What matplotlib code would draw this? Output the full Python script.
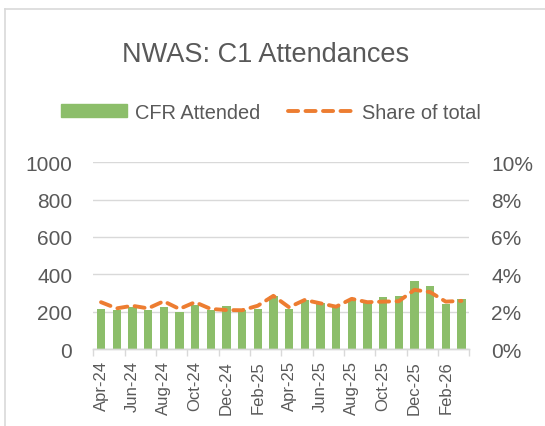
import matplotlib
matplotlib.use("Agg")
import matplotlib.pyplot as plt
import matplotlib.patches as mpatches
import matplotlib.lines as mlines
import numpy as np

# ── data ──────────────────────────────────────────────────────────────────────
MONTHS = ["Apr-24", "May-24", "Jun-24", "Jul-24", "Aug-24", "Sep-24",
          "Oct-24", "Nov-24", "Dec-24", "Jan-25", "Feb-25", "Mar-25",
          "Apr-25", "May-25", "Jun-25", "Jul-25", "Aug-25", "Sep-25",
          "Oct-25", "Nov-25", "Dec-25", "Jan-26", "Feb-26", "Mar-26"]
CFR_ATTENDED = [216, 210, 227, 210, 225, 196, 234, 211, 228, 211, 215, 286,
                213, 265, 247, 232, 268, 259, 279, 283, 366, 337, 240, 267]
SHARE_PCT = [2.51, 2.18, 2.32, 2.18, 2.56, 2.15, 2.51, 2.15, 2.09, 2.08, 2.32, 2.85,
             2.24, 2.63, 2.45, 2.27, 2.69, 2.51, 2.54, 2.56, 3.17, 3.05, 2.54, 2.58]

# ── style ──────────────────────────────────────────────────────────────────────
C_BAR  = "#8cbe6a"
C_LINE = "#ed7d31"
C_TEXT = "#595959"
C_GRID = "#d9d9d9"
FONT   = "Liberation Sans"
DASH   = (2.6, 1.9)
plt.rcParams["font.family"] = [FONT, "DejaVu Sans"]

fig = plt.figure(figsize=(5.45, 4.27), dpi=100)
ax = fig.add_axes([0.171, 0.180, 0.690, 0.438])
ax2 = ax.twinx()

x = np.arange(len(MONTHS))
ax.bar(x, CFR_ATTENDED, width=0.53, color=C_BAR, zorder=2)
ax2.plot(x, [v / 100 for v in SHARE_PCT], color=C_LINE, linewidth=2.8,
         dashes=DASH, dash_capstyle="round", zorder=3)

ax.set_xlim(-0.5, len(MONTHS) - 0.5)
ax.set_ylim(0, 1000)
ax.set_yticks(range(0, 1001, 200))
ax2.set_ylim(0, 0.10)
ax2.set_yticks(np.arange(0, 0.101, 0.02))
ax2.set_yticklabels([f"{int(round(v * 100))}%" for v in np.arange(0, 0.101, 0.02)])

ax.yaxis.grid(True, color=C_GRID, linewidth=1.0, zorder=0)
ax.set_axisbelow(True)
ax.set_zorder(ax2.get_zorder() - 1)
ax.patch.set_visible(False)

# x ticks: labels every 2nd month, tick marks at category boundaries
ax.set_xticks(x[::2])
ax.set_xticklabels(MONTHS[::2], rotation=90, fontsize=12, color=C_TEXT)
ax.set_xticks(np.arange(-0.5, len(MONTHS), 2), minor=True)
ax.tick_params(axis="x", which="major", length=0, pad=8)
ax.tick_params(axis="x", which="minor", length=5, color=C_GRID, width=1)
ax.tick_params(axis="y", length=0, pad=15, labelsize=15, labelcolor=C_TEXT)
ax2.tick_params(axis="y", length=0, pad=16, labelsize=15, labelcolor=C_TEXT)

for a in (ax, ax2):
    for s in ("top", "left", "right"):
        a.spines[s].set_visible(False)
    a.spines["bottom"].set_color(C_GRID)
    a.spines["bottom"].set_linewidth(1.0)

# title
fig.text(0.488, 0.855, "NWAS: C1 Attendances", ha="center", va="baseline",
         fontsize=19.5, color=C_TEXT)

# legend
handles = [mpatches.Patch(color=C_BAR, label="CFR Attended"),
           mlines.Line2D([], [], color=C_LINE, linewidth=2.8, dashes=DASH,
                         dash_capstyle="round", label="Share of total")]
fig.legend(handles=handles, loc="center", bbox_to_anchor=(0.497, 0.735),
           ncol=2, frameon=False, fontsize=14.4, labelcolor=C_TEXT,
           handlelength=3.3, handleheight=0.67, handletextpad=0.4,
           columnspacing=1.4)

# chart frame (light border as in the source)
W, H = 545, 427
fig.add_artist(mlines.Line2D([5 / W, 5 / W], [0, 1 - 10 / H], color=C_GRID, lw=1.2))
fig.add_artist(mlines.Line2D([5 / W, 1], [1 - 10 / H, 1 - 10 / H], color=C_GRID, lw=1.2))

fig.savefig("out.png", dpi=100)
